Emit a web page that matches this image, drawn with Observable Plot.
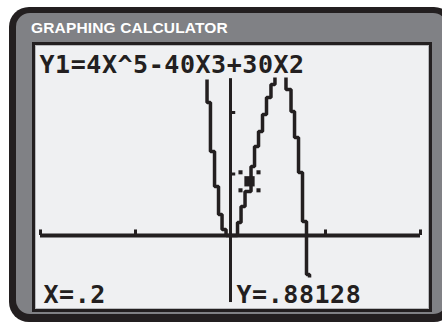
<!DOCTYPE html>
<html>
<head>
<meta charset="utf-8">
<script src="https://cdn.jsdelivr.net/npm/d3@7"></script>
<script src="https://cdn.jsdelivr.net/npm/@observablehq/plot@0.6"></script>
<style>
  html, body { margin: 0; padding: 0; background: #ffffff; overflow: hidden; }
  #page { position: relative; width: 442px; height: 325px; overflow: hidden; background: #ffffff; }
  .calc-outer {
    position: absolute; left: 9px; top: 7px; width: 445px; height: 315px;
    background: #231f20; border-radius: 20px;
  }
  .calc-inner {
    position: absolute; left: 16px; top: 13px; width: 431px; height: 301px;
    background: #808185; border-radius: 14px;
  }
  .title {
    position: absolute; left: 31px; top: 19.5px;
    font-family: "Liberation Sans", Arial, sans-serif; font-weight: bold;
    font-size: 15.5px; line-height: 1; letter-spacing: 0.15px; color: #ffffff;
    white-space: nowrap;
  }
  .screen {
    position: absolute; left: 32px; top: 42px; width: 400px; height: 270px;
    box-sizing: border-box; border: 3px solid #231f20; background: #eff0f2;
    box-shadow: inset 0 0 0 1px #b8b9bc;
  }
  .screen svg { display: block; }
  .screen svg text { letter-spacing: 0.55px; }
</style>
</head>
<body>
<div id="page">
  <div class="calc-outer"></div>
  <div class="calc-inner"></div>
  <div class="title">GRAPHING CALCULATOR</div>
  <div class="screen" id="screen"></div>
</div>
<script>
// ---- data ----
const equation = "Y1=4X^5-40X3+30X2";
const xReadout = "X=.2";
const yReadout = "Y=.88128";

const xTicks = [-2, -1, 1, 2];
const yTicks = [1, 2];

// left branch + rising branch (pixel stair-steps)
const curveAX = [-0.247, -0.247, -0.211, -0.168, -0.126, -0.089, -0.047, 0, 0.074, 0.111, 0.153, 0.216, 0.253, 0.295, 0.337, 0.379, 0.426, 0.468];
const curveAY = [2.537, 2.163, 1.366, 0.797, 0.341, 0.098, 0, 0, 0.211, 0.472, 0.715, 1.122, 1.447, 1.691, 1.967, 2.244, 2.455, 2.569];
// descending branch
const curveBX = [0.584, 0.584, 0.637, 0.674, 0.716, 0.758, 0.800, 0.832];
const curveBY = [2.569, 2.374, 2.016, 1.593, 1.024, 0.228, -0.634, -0.683];

const cursorX = [0.2];
const cursorY = [0.88128];

// ---- build ----
const ink = "#231f20";
const curveA = curveAX.map((x, i) => ({x, y: curveAY[i]}));
const curveB = curveBX.map((x, i) => ({x, y: curveBY[i]}));
const cursor = cursorX.map((x, i) => ({x, y: cursorY[i]}));

const font = {fontFamily: "DejaVu Sans Mono", fontWeight: "bold", fontSize: 25, fill: ink, textAnchor: "start", lineAnchor: "bottom"};
const lineOpts = {x: "x", y: "y", curve: "step-after", stroke: ink, strokeWidth: 3.5, strokeLinejoin: "miter", strokeLinecap: "butt"};
const corner = (dx, dy) => Plot.dot(cursor, {x: "x", y: "y", symbol: "square", r: 2.3, fill: ink, dx, dy});

const chart = Plot.plot({
  width: 394,
  height: 264,
  margin: 0,
  style: {background: "transparent"},
  x: {domain: [-2, 2], range: [5, 385], axis: null},
  y: {domain: [-1, 2], range: [251.5, 67], axis: null},
  marks: [
    Plot.ruleY([0], {x1: -2, x2: 2, stroke: ink, strokeWidth: 4}),
    Plot.ruleX(xTicks, {y1: 0, y2: 0.09, stroke: ink, strokeWidth: 3}),
    Plot.ruleX([0], {y1: -1.09, y2: 2.55, stroke: ink, strokeWidth: 3}),
    Plot.ruleY(yTicks, {x1: 0, x2: 0.055, stroke: ink, strokeWidth: 3}),
    Plot.line(curveA, lineOpts),
    Plot.line(curveB, lineOpts),
    Plot.dot(cursor, {x: "x", y: "y", symbol: "square", r: 5.8, fill: ink}),
    corner(-9, -9), corner(9, -9), corner(-9, 9), corner(9, 9),
    Plot.text([equation], {text: d => d, frameAnchor: "top-left", dx: 4, dy: 27, ...font}),
    Plot.text([xReadout], {text: d => d, frameAnchor: "bottom-left", dx: 8, dy: -7, ...font}),
    Plot.text([yReadout], {text: d => d, frameAnchor: "bottom-left", dx: 201, dy: -7, ...font})
  ]
});
document.getElementById("screen").appendChild(chart);
</script>
</body>
</html>
